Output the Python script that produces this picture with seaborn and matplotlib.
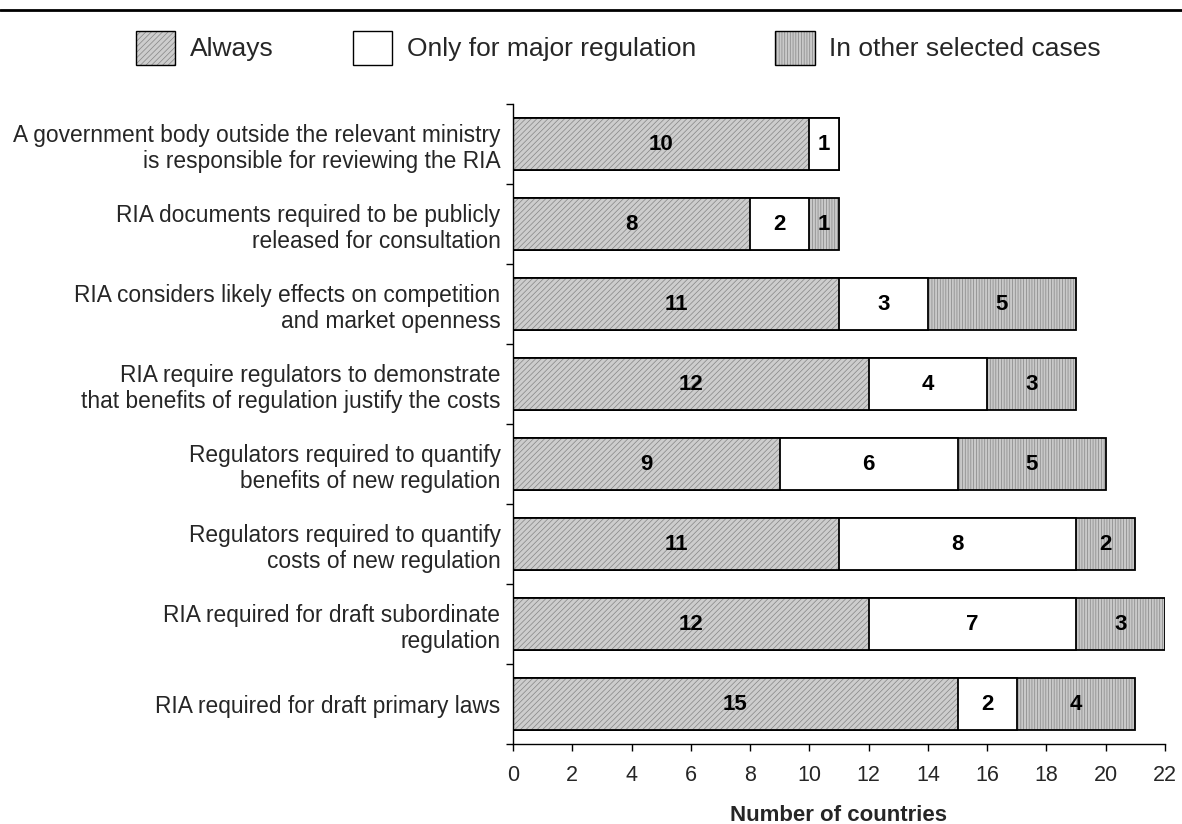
import numpy as np
import pandas as pd
import seaborn as sns
import matplotlib.pyplot as plt
from matplotlib.lines import Line2D
from matplotlib.patches import Patch
from matplotlib.legend_handler import HandlerTuple

# --- data -------------------------------------------------------------
labels = [
    "A government body outside the relevant ministry\nis responsible for reviewing the RIA",
    "RIA documents required to be publicly\nreleased for consultation",
    "RIA considers likely effects on competition\nand market openness",
    "RIA require regulators to demonstrate\nthat benefits of regulation justify the costs",
    "Regulators required to quantify\nbenefits of new regulation",
    "Regulators required to quantify\ncosts of new regulation",
    "RIA required for draft subordinate\nregulation",
    "RIA required for draft primary laws",
]
always = [10, 8, 11, 12, 9, 11, 12, 15]
major_only = [1, 2, 3, 4, 6, 8, 7, 2]
other_cases = [0, 1, 5, 3, 5, 2, 3, 4]
series_names = ["Always", "Only for major regulation", "In other selected cases"]
x_ticks = list(range(0, 23, 2))

# --- styling ----------------------------------------------------------
sns.set_theme(style="white")
plt.rcParams["font.family"] = ["Liberation Sans", "DejaVu Sans"]
plt.rcParams["hatch.linewidth"] = 0.5

FACE_ALWAYS = "#cdcdcd"
FACE_OTHER = "#c9c9c9"
HATCH_COL = "#858585"
BAR_W = 0.66

df = pd.DataFrame({
    "label": labels,
    "always": always,
    "major": major_only,
    "other": other_cases,
})
df["to_major"] = df["always"] + df["major"]
df["total"] = df["to_major"] + df["other"]

fig = plt.figure(figsize=(11.82, 8.24), dpi=100)
ax = fig.add_axes([0.434, 0.097, 0.5516, 0.7767])

# stacked bars drawn back-to-front as cumulative lengths
layers = [
    ("total", FACE_OTHER, "||||||"),
    ("to_major", "white", None),
    ("always", FACE_ALWAYS, "//////"),
]
for col, face, hatch in layers:
    sns.barplot(data=df, x=col, y="label", orient="h", color=face,
                saturation=1, width=BAR_W, errorbar=None, hatch=hatch,
                edgecolor=HATCH_COL, linewidth=0, ax=ax)
    sns.barplot(data=df, x=col, y="label", orient="h", color="black",
                fill=False, width=BAR_W, errorbar=None, linewidth=1.3, ax=ax)

# segment value labels
for i, row in df.iterrows():
    starts = [0, row["always"], row["to_major"]]
    vals = [row["always"], row["major"], row["other"]]
    for s, v in zip(starts, vals):
        if v > 0:
            ax.text(s + v / 2, i, str(v), ha="center", va="center",
                    fontsize=16, fontweight="bold", color="black")

# axes
ax.set_xlim(0, 22)
ax.set_ylim(len(labels) - 0.5, -0.5)
ax.set_xticks(x_ticks)
ax.set_xticklabels([str(t) for t in x_ticks], fontsize=15.5)
ax.set_yticks(np.arange(-0.5, len(labels)), labels=[""] * (len(labels) + 1))
ax.set_yticks(np.arange(len(labels)), labels=labels, minor=True)
ax.tick_params(axis="y", which="major", direction="out", length=5,
               width=1, color="black", left=True)
ax.tick_params(axis="y", which="minor", length=0, pad=9, labelsize=16.4)
ax.tick_params(axis="x", direction="out", length=5, width=1, color="black",
               bottom=True, pad=10)
for lab in ax.get_yticklabels(minor=True):
    lab.set_linespacing(1.2)
ax.set_ylabel("")
ax.set_xlabel("Number of countries", fontsize=16, fontweight="bold",
              labelpad=14)
for side in ["top", "right"]:
    ax.spines[side].set_visible(False)
for side in ["left", "bottom"]:
    ax.spines[side].set_color("black")
    ax.spines[side].set_linewidth(1)
ax.grid(False)

# rule across the top
fig.add_artist(Line2D([0, 1], [0.988, 0.988], transform=fig.transFigure,
                      color="black", lw=2))

# legend
handles = [
    (Patch(facecolor=FACE_ALWAYS, hatch="//////", edgecolor=HATCH_COL, linewidth=0),
     Patch(facecolor="none", edgecolor="black", linewidth=1)),
    (Patch(facecolor="white", edgecolor="black", linewidth=1),),
    (Patch(facecolor=FACE_OTHER, hatch="||||||", edgecolor=HATCH_COL, linewidth=0),
     Patch(facecolor="none", edgecolor="black", linewidth=1)),
]
fig.legend(handles, series_names, handler_map={tuple: HandlerTuple(ndivide=1, pad=0)},
           loc="center", bbox_to_anchor=(0.523, 0.942), ncol=3, frameon=False,
           fontsize=19, handlelength=1.5, handleheight=1.6, handletextpad=0.55,
           columnspacing=3.0)

fig.savefig("out.png", dpi=100)
